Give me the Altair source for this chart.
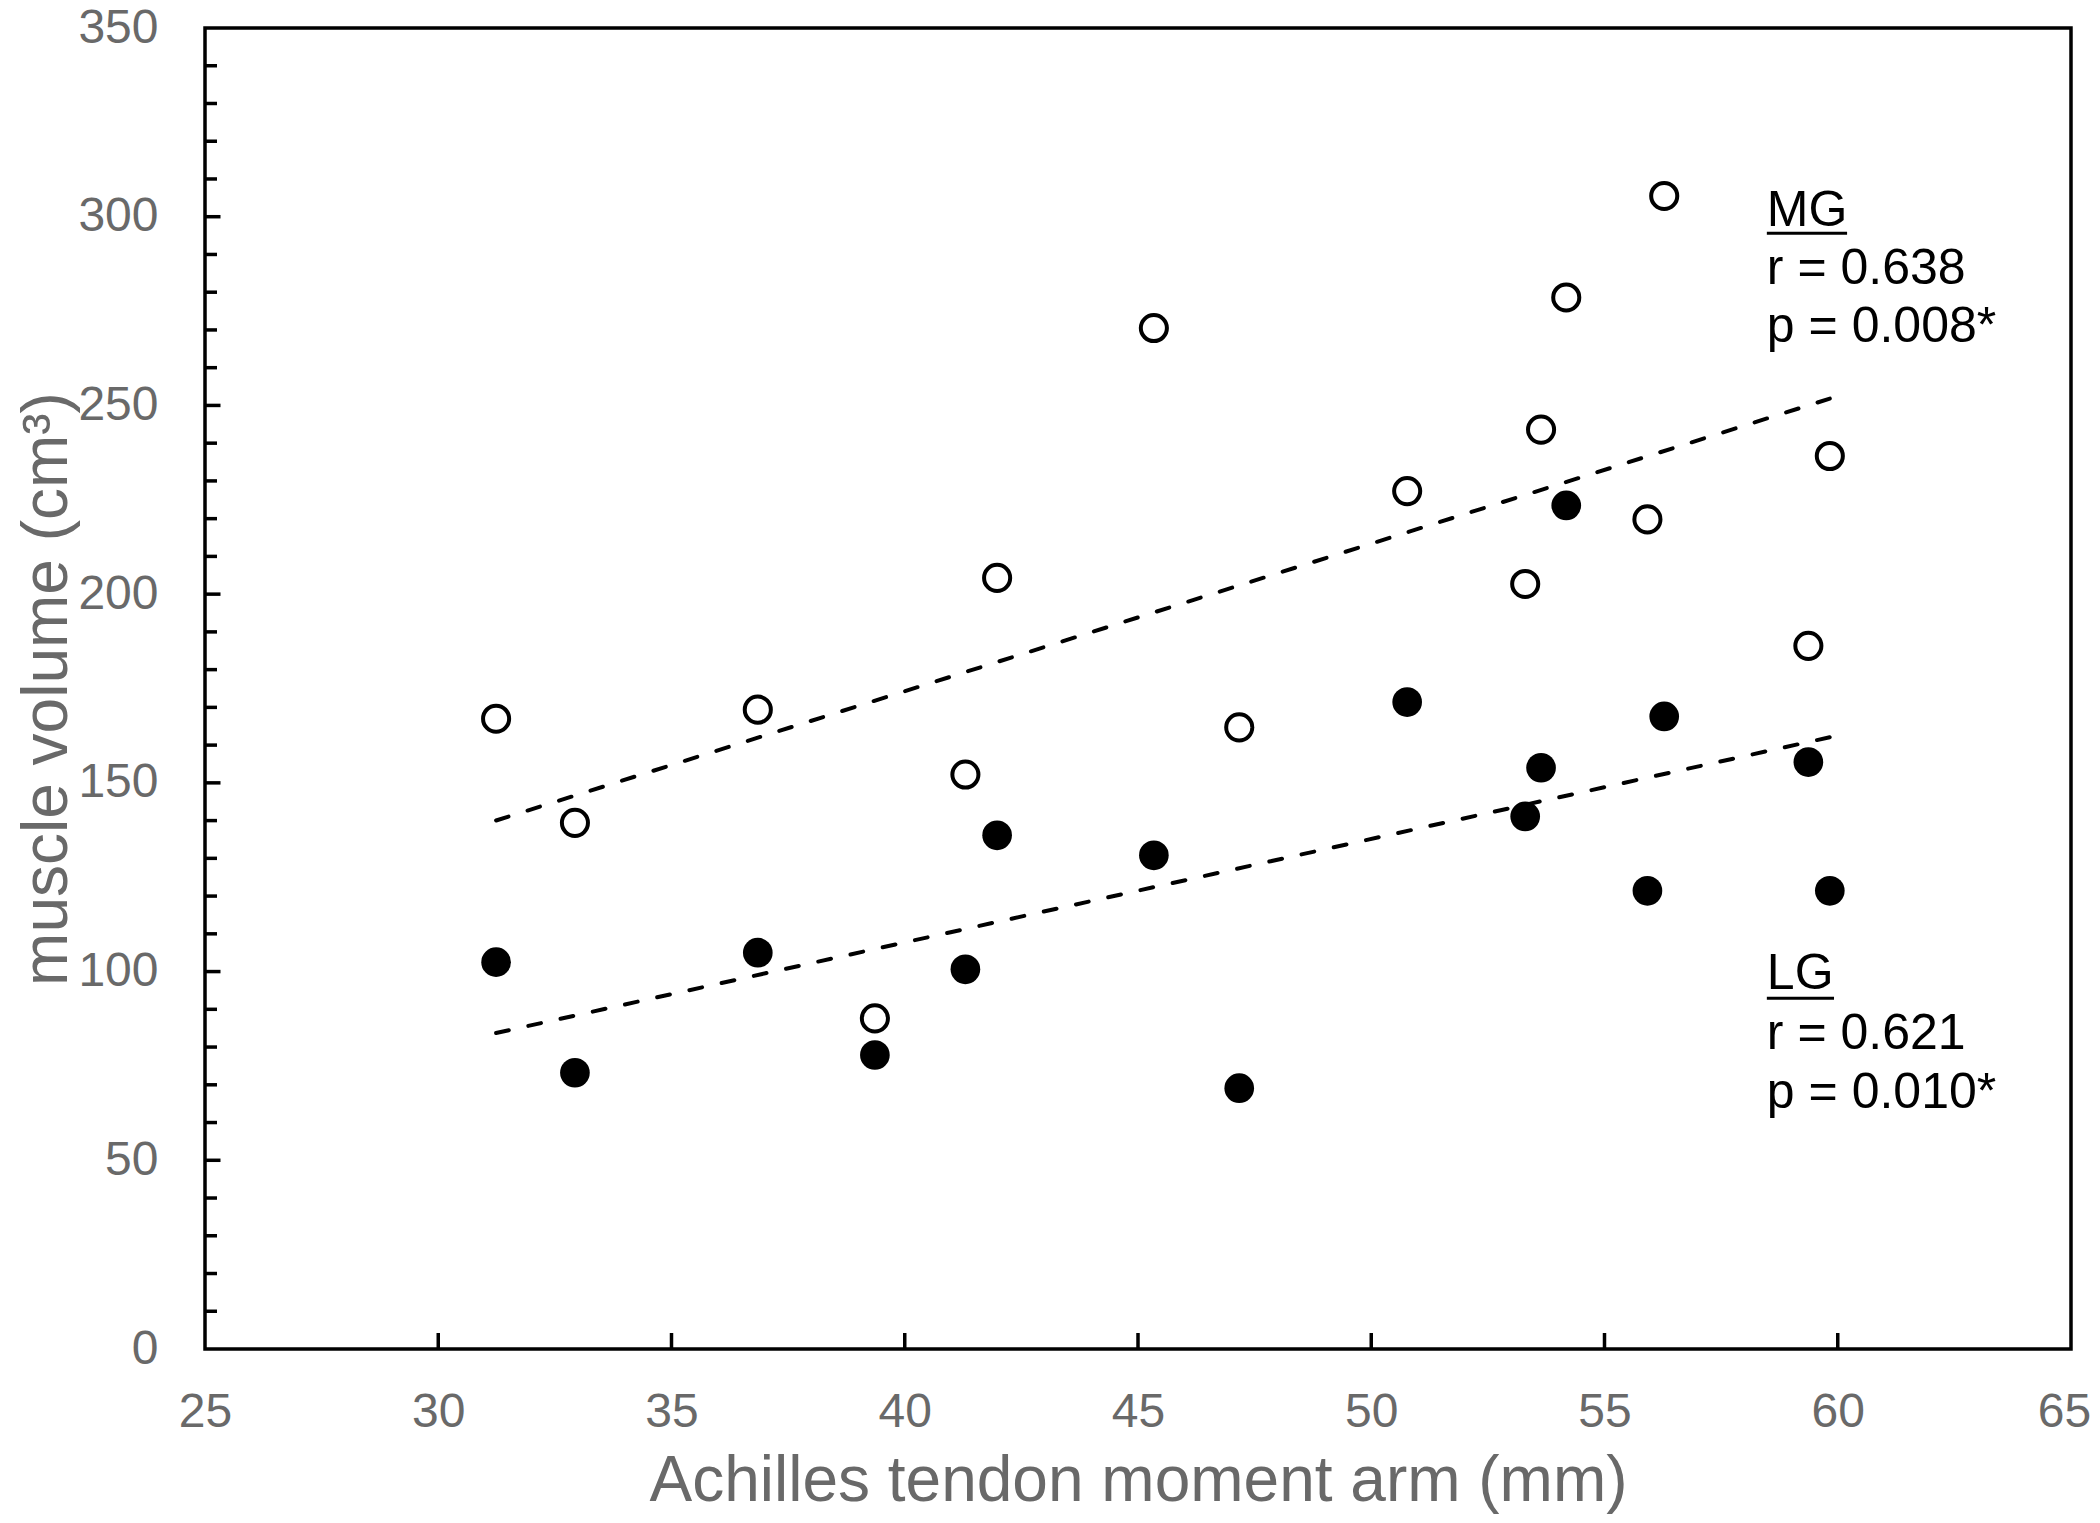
import altair as alt
import pandas as pd

# Achilles tendon moment arm (mm)
arm = [31.24, 32.93, 36.85, 39.36, 41.30, 41.98, 45.34, 47.17,
       50.77, 53.30, 53.64, 54.18, 55.92, 56.28, 59.37, 59.83]
# medial gastrocnemius volume (cm3) - open circles
mg = [167.0, 139.4, 169.4, 87.6, 152.2, 204.3, 270.5, 164.7,
      227.3, 202.7, 243.6, 278.6, 219.8, 305.5, 186.3, 236.6]
# lateral gastrocnemius volume (cm3) - filled circles
lg = [102.5, 73.2, 105.0, 77.9, 100.6, 136.1, 130.8, 69.1,
      171.4, 141.1, 154.0, 223.5, 121.4, 167.6, 155.5, 121.4]

x_ticks = [25, 30, 35, 40, 45, 50, 55, 60, 65]
x_inner_ticks = [30, 35, 40, 45, 50, 55, 60]
y_ticks = [0, 50, 100, 150, 200, 250, 300, 350]
y_major_inner = [50, 100, 150, 200, 250, 300]
y_minor_inner = [10, 20, 30, 40, 60, 70, 80, 90, 110, 120, 130, 140,
                 160, 170, 180, 190, 210, 220, 230, 240, 260, 270, 280,
                 290, 310, 320, 330, 340]

note_text = ["MG", "r = 0.638", "p = 0.008*", "LG", "r = 0.621", "p = 0.010*"]
note_x = [58.48, 58.48, 58.48, 58.48, 58.48, 58.48]
note_y = [297.5, 282.2, 266.9, 95.3, 79.4, 63.9]
underline_x = [58.48, 58.48]
underline_x2 = [60.20, 59.92]
underline_y = [295.6, 92.9]

W, H = 1866, 1321
GRAY = "#696969"
FONT = "Liberation Sans"

xs = alt.Scale(domain=[25, 65], nice=False, zero=False)
ys = alt.Scale(domain=[0, 350], nice=False, zero=False)

pts = pd.DataFrame({
    "x": arm + arm,
    "y": mg + lg,
    "group": ["MG"] * len(arm) + ["LG"] * len(arm),
})
mg_df = pts[pts.group == "MG"]
lg_df = pts[pts.group == "LG"]

x_axis = alt.Axis(values=x_ticks, title="Achilles tendon moment arm (mm)",
                  domain=False, ticks=False, tickSize=0, grid=False,
                  labelFontSize=48, labelColor=GRAY, labelFont=FONT,
                  labelPadding=39, labelFlush=False, labelOverlap=False,
                  labelOffset=alt.condition("datum.value == 65", alt.value(-7), alt.value(0)),
                  titleFontSize=64, titleColor=GRAY, titleFont=FONT,
                  titleFontWeight="normal", titleX=W / 2, titleY=151,
                  titleBaseline="alphabetic", titleAlign="center")
y_axis = alt.Axis(values=y_ticks, title="muscle volume (cm³)",
                  domain=False, ticks=False, tickSize=0, grid=False,
                  labelFontSize=48, labelColor=GRAY, labelFont=FONT,
                  labelPadding=47, labelFlush=False, labelOverlap=False,
                  titleFontSize=64, titleColor=GRAY, titleFont=FONT,
                  titleFontWeight="normal", titleX=-139, titleY=H / 2,
                  titleAngle=-90, titleBaseline="alphabetic", titleAlign="center")


def X(field):
    return alt.X(field, scale=xs, axis=x_axis)


def Y(field):
    return alt.Y(field, scale=ys, axis=y_axis)


open_pts = alt.Chart(mg_df).mark_point(
    shape="circle", filled=False, stroke="black", strokeWidth=4,
    size=680, opacity=1
).encode(x=X("x:Q"), y=Y("y:Q"))

filled_pts = alt.Chart(lg_df).mark_circle(
    color="black", size=880, opacity=1
).encode(x=X("x:Q"), y=Y("y:Q"))

fit = alt.Chart(pts).transform_regression(
    "x", "y", groupby=["group"]
).mark_line(
    color="black", strokeWidth=4, strokeDash=[13, 20], strokeCap="round"
).encode(x=X("x:Q"), y=Y("y:Q"), detail="group:N")

y_major = alt.Chart(pd.DataFrame({"y": y_major_inner})).mark_rule(
    color="black", strokeWidth=3.5
).encode(y=Y("y:Q"), x=alt.value(0), x2=alt.value(15.5))

y_minor = alt.Chart(pd.DataFrame({"y": y_minor_inner})).mark_rule(
    color="black", strokeWidth=3.5
).encode(y=Y("y:Q"), x=alt.value(0), x2=alt.value(12))

x_tk = alt.Chart(pd.DataFrame({"x": x_inner_ticks})).mark_rule(
    color="black", strokeWidth=3.5
).encode(x=X("x:Q"), y=alt.value(H), y2=alt.value(H - 16))

notes = alt.Chart(pd.DataFrame({"t": note_text, "x": note_x, "y": note_y})).mark_text(
    align="left", baseline="alphabetic", fontSize=50, font=FONT, color="black"
).encode(x=X("x:Q"), y=Y("y:Q"), text="t:N")

underlines = alt.Chart(pd.DataFrame({"x": underline_x, "x2": underline_x2, "y": underline_y})).mark_rule(
    color="black", strokeWidth=3
).encode(x=X("x:Q"), x2="x2:Q", y=Y("y:Q"))

chart = alt.layer(
    open_pts, filled_pts, fit, y_minor, y_major, x_tk, notes, underlines
).properties(
    width=W, height=H,
    autosize=alt.AutoSizeParams(type="none"),
    padding={"left": 197, "top": 20, "right": 21, "bottom": 166},
    background="white",
).configure_view(
    stroke="black", strokeWidth=3.5
)

chart.save("out.html", embed_options={"renderer": "svg", "actions": False})
